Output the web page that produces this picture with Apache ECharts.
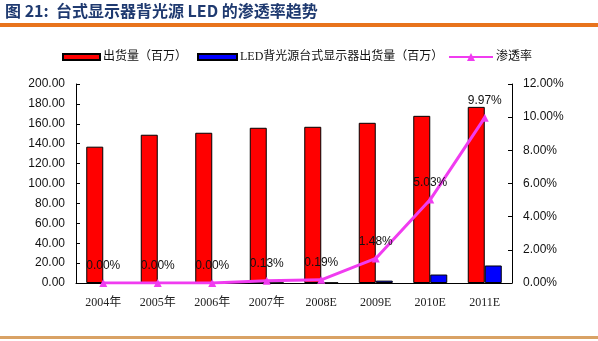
<!DOCTYPE html>
<html><head><meta charset="utf-8">
<script src="https://cdn.jsdelivr.net/npm/echarts@6/dist/echarts.min.js"></script>
<style>html,body{margin:0;padding:0;background:#fff;}#c{width:598px;height:341px;}</style>
</head><body><div id="c"></div>
<script>
const categories = ['2004年','2005年','2006年','2007年','2008E','2009E','2010E','2011E'];
const shipments = [137, 149, 151, 156, 157, 161, 168, 177];
const ledShipments = [0, 0, 0, 0.2, 0.3, 2.4, 8.5, 17.6];
const penetration = [0.00, 0.00, 0.00, 0.13, 0.19, 1.48, 5.03, 9.97];
const leftTicks = {min: 0, max: 200, interval: 20};
const rightTicks = {min: 0, max: 12, interval: 2};

const chart = echarts.init(document.getElementById('c'));
const cjk = '"Liberation Serif","Noto Sans CJK SC",serif';
const legTxt = {fontFamily: cjk, fontSize: 12, color: '#111', padding: [0, 0, 0, -2]};
chart.setOption({
  animation: false,
  backgroundColor: '#fff',
  graphic: [
    {type: 'text', left: 5, top: 3, style: {text: '图 21:  台式显示器背光源 LED 的渗透率趋势', fill: '#1f3a70', font: 'bold 16px "Noto Sans CJK SC", serif'}},
    {type: 'rect', shape: {x: 0, y: 23, width: 598, height: 4}, style: {fill: '#e8731c'}},
    {type: 'rect', shape: {x: 0, y: 336, width: 598, height: 3}, style: {fill: '#d9a265'}}
  ],
  legend: [
    {top: 46, left: 57, itemWidth: 37, itemHeight: 6, textStyle: legTxt,
     data: [{name: '出货量（百万）', icon: 'rect'}]},
    {top: 46, left: 192, itemWidth: 39, itemHeight: 6, textStyle: legTxt,
     data: [{name: 'LED背光源台式显示器出货量（百万）', icon: 'rect'}]},
    {top: 46, left: 443, itemWidth: 44, itemHeight: 10, textStyle: legTxt,
     data: [{name: '渗透率'}]}
  ],
  grid: {left: 76, right: 86, top: 84, bottom: 58},
  xAxis: {
    type: 'category', data: categories,
    axisLine: {lineStyle: {color: '#000', width: 1}},
    axisTick: {inside: true, length: 4, lineStyle: {color: '#000'}},
    axisLabel: {fontFamily: cjk, fontSize: 12, color: '#222', margin: 14}
  },
  yAxis: [
    {type: 'value', min: leftTicks.min, max: leftTicks.max, interval: leftTicks.interval,
     axisLine: {show: true, lineStyle: {color: '#000'}},
     axisTick: {show: true, inside: true, length: 4, lineStyle: {color: '#000'}},
     splitLine: {show: false},
     axisLabel: {formatter: v => v.toFixed(2), fontFamily: 'Liberation Sans, Arial', fontSize: 12, color: '#111', margin: 11}},
    {type: 'value', min: rightTicks.min, max: rightTicks.max, interval: rightTicks.interval,
     axisLine: {show: true, lineStyle: {color: '#000'}},
     axisTick: {show: true, inside: true, length: 4, lineStyle: {color: '#000'}},
     splitLine: {show: false},
     axisLabel: {formatter: v => v.toFixed(2) + '%', fontFamily: 'Liberation Sans, Arial', fontSize: 12, color: '#111', margin: 11}}
  ],
  series: [
    {name: '出货量（百万）', type: 'bar', data: shipments, barWidth: 17, barGap: '0%',
     itemStyle: {color: '#ff0000', borderColor: '#000', borderWidth: 1}},
    {name: 'LED背光源台式显示器出货量（百万）', type: 'bar', data: ledShipments, barWidth: 17, barGap: '0%',
     itemStyle: {color: '#0000ff', borderColor: '#000', borderWidth: 1}},
    {name: '渗透率', type: 'line', yAxisIndex: 1, data: penetration,
     symbol: 'triangle', symbolSize: 8,
     lineStyle: {color: '#f03cf0', width: 3}, itemStyle: {color: '#f03cf0'},
     label: {show: true, position: 'top', distance: 7, formatter: p => p.value.toFixed(2) + '%',
       fontFamily: 'Liberation Sans, Arial', fontSize: 12, color: '#111'}}
  ]
});
</script></body></html>
